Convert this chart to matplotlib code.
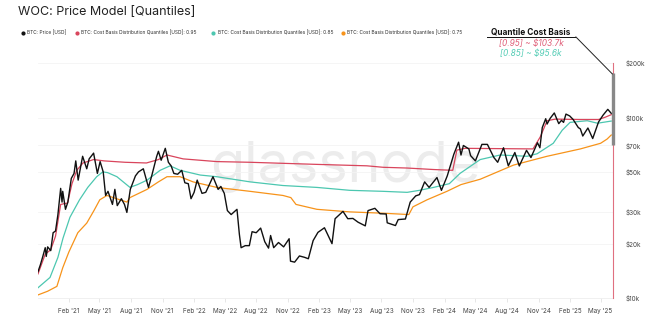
import matplotlib
matplotlib.use('Agg')
import matplotlib.pyplot as plt
import matplotlib.dates as mdates
import matplotlib.ticker as mticker
from matplotlib.lines import Line2D
import pandas as pd

plt.rcParams['font.family'] = ['Inter', 'DejaVu Sans']

# BTC price (thousand USD)
price_dates = [
    '2020-11-03', '2020-11-10', '2020-11-17', '2020-11-24', '2020-11-27', '2020-12-01',
    '2020-12-10', '2020-12-17', '2020-12-24', '2020-12-31', '2021-01-08', '2021-01-12',
    '2021-01-14', '2021-01-22', '2021-01-29', '2021-02-08', '2021-02-16', '2021-02-21',
    '2021-02-28', '2021-03-13', '2021-03-25', '2021-04-01', '2021-04-14', '2021-04-25',
    '2021-05-03', '2021-05-12', '2021-05-19', '2021-05-26', '2021-06-08', '2021-06-15',
    '2021-06-22', '2021-07-04', '2021-07-13', '2021-07-20', '2021-07-30', '2021-08-14',
    '2021-08-23', '2021-09-06', '2021-09-21', '2021-10-01', '2021-10-15', '2021-10-20',
    '2021-10-28', '2021-11-09', '2021-11-18', '2021-11-26', '2021-12-04', '2021-12-15',
    '2021-12-27', '2022-01-05', '2022-01-15', '2022-01-23', '2022-02-01', '2022-02-10',
    '2022-02-24', '2022-03-07', '2022-03-28', '2022-04-12', '2022-04-20', '2022-04-30',
    '2022-05-09', '2022-05-20', '2022-06-06', '2022-06-13', '2022-06-18', '2022-06-30',
    '2022-07-12', '2022-07-20', '2022-08-01', '2022-08-14', '2022-08-26', '2022-09-06',
    '2022-09-12', '2022-09-21', '2022-10-05', '2022-10-20', '2022-11-05', '2022-11-09',
    '2022-11-21', '2022-12-05', '2022-12-20', '2022-12-31', '2023-01-14', '2023-01-28',
    '2023-02-16', '2023-03-10', '2023-03-19', '2023-04-11', '2023-04-25', '2023-05-10',
    '2023-05-25', '2023-06-15', '2023-06-23', '2023-07-13', '2023-07-28', '2023-08-15',
    '2023-08-18', '2023-09-11', '2023-09-19', '2023-10-10', '2023-10-24', '2023-11-09',
    '2023-11-20', '2023-12-05', '2023-12-18', '2024-01-10', '2024-01-23', '2024-02-09',
    '2024-02-28', '2024-03-13', '2024-03-20', '2024-03-27', '2024-04-12', '2024-04-17',
    '2024-05-01', '2024-05-20', '2024-06-05', '2024-06-24', '2024-07-05', '2024-07-22',
    '2024-08-05', '2024-08-24', '2024-09-06', '2024-09-27', '2024-10-10', '2024-10-29',
    '2024-11-05', '2024-11-12', '2024-11-22', '2024-11-26', '2024-12-05', '2024-12-17',
    '2024-12-30', '2025-01-07', '2025-01-13', '2025-01-20', '2025-01-31', '2025-02-10',
    '2025-02-25', '2025-03-03', '2025-03-10', '2025-03-25', '2025-04-08', '2025-04-25',
    '2025-05-08', '2025-05-22', '2025-06-01',
]
price_k = [
    14.0, 15.3, 17.0, 19.0, 17.0, 19.2,
    18.3, 23.0, 23.5, 29.0, 40.5, 34.0,
    39.0, 31.0, 34.0, 46.0, 49.0, 57.5,
    45.0, 61.0, 52.0, 59.0, 63.5, 49.0,
    57.0, 50.0, 37.0, 39.0, 33.0, 40.0,
    32.5, 35.5, 33.0, 29.8, 40.0, 47.5,
    50.0, 52.0, 41.0, 48.0, 61.0, 65.0,
    58.0, 67.5, 56.5, 54.0, 49.0, 48.5,
    51.0, 43.5, 43.0, 35.5, 38.5, 45.0,
    38.0, 38.5, 47.0, 40.0, 41.5, 38.0,
    30.5, 29.0, 31.0, 22.5, 19.0, 19.5,
    19.5, 23.3, 23.0, 24.4, 20.5, 18.9,
    22.2, 19.0, 20.3, 19.2, 21.3, 16.0,
    15.8, 17.1, 16.8, 16.5, 20.8, 23.1,
    24.5, 20.0, 27.5, 30.2, 27.5, 27.6,
    26.3, 25.1, 30.5, 31.4, 29.3, 29.2,
    26.1, 25.2, 27.2, 27.4, 34.0, 36.8,
    37.4, 44.0, 41.0, 46.5, 39.5, 47.5,
    62.5, 73.0, 62.0, 70.0, 67.0, 61.5,
    57.5, 71.0, 71.0, 60.0, 56.5, 68.0,
    54.0, 64.0, 53.9, 65.8, 60.0, 72.5,
    68.0, 88.0, 98.5, 92.0, 99.0, 106.0,
    92.5, 96.5, 94.0, 104.5, 102.0, 97.5,
    88.0, 86.5, 79.0, 87.5, 76.5, 94.5,
    103.0, 111.0, 105.5,
]

# cost basis quantile 0.95
q95_dates = [
    '2020-11-03', '2020-11-24', '2020-12-10', '2020-12-24', '2021-01-08', '2021-01-28',
    '2021-02-10', '2021-02-24', '2021-03-14', '2021-04-14', '2021-05-15', '2021-07-15',
    '2021-09-15', '2021-10-20', '2021-11-14', '2021-12-31', '2022-04-08', '2022-07-14',
    '2023-01-25', '2023-06-20', '2023-08-06', '2023-10-15', '2024-01-01', '2024-02-25',
    '2024-03-08', '2024-04-01', '2024-10-16', '2024-11-06', '2024-11-26', '2024-12-20',
    '2025-03-01', '2025-04-25', '2025-05-15', '2025-06-01',
]
q95_k = [
    13.6, 17.5, 18.5, 22.0, 33.0, 33.6,
    43.0, 51.0, 56.0, 58.5, 57.5, 56.5,
    56.0, 58.5, 62.0, 59.0, 57.0, 56.5,
    55.0, 54.0, 53.0, 52.5, 51.5, 51.0,
    66.0, 67.5, 67.0, 78.0, 96.0, 98.0,
    97.5, 97.5, 100.5, 103.7,
]

# cost basis quantile 0.85
q85_dates = [
    '2020-11-03', '2020-12-08', '2020-12-31', '2021-01-15', '2021-02-04', '2021-03-04',
    '2021-03-28', '2021-04-23', '2021-05-11', '2021-05-25', '2021-06-21', '2021-07-29',
    '2021-08-20', '2021-09-17', '2021-10-25', '2021-11-23', '2021-12-22', '2022-02-19',
    '2022-04-08', '2022-07-14', '2022-10-18', '2023-01-25', '2023-05-01', '2023-08-06',
    '2023-10-15', '2023-11-20', '2023-12-31', '2024-02-15', '2024-03-17', '2024-05-15',
    '2024-07-12', '2024-09-29', '2024-10-28', '2024-12-14', '2025-01-09', '2025-02-01',
    '2025-03-23', '2025-04-22', '2025-06-01',
]
q85_k = [
    11.4, 13.0, 16.8, 21.5, 28.0, 35.0,
    41.0, 47.0, 50.0, 49.5, 47.0, 41.0,
    42.5, 45.0, 51.0, 54.0, 51.0, 48.0,
    47.0, 44.0, 42.0, 41.0, 39.5, 39.0,
    38.5, 39.5, 41.0, 43.0, 49.0, 58.5,
    62.0, 61.0, 63.0, 72.0, 85.0, 94.0,
    96.0, 93.0, 95.6,
]

# cost basis quantile 0.75
q75_dates = [
    '2020-11-03', '2020-12-01', '2020-12-28', '2021-01-14', '2021-02-01', '2021-02-27',
    '2021-03-25', '2021-04-15', '2021-05-02', '2021-05-23', '2021-06-20', '2021-07-20',
    '2021-07-29', '2021-09-17', '2021-10-20', '2021-11-14', '2021-12-22', '2022-01-29',
    '2022-04-08', '2022-07-14', '2022-10-18', '2022-11-10', '2022-11-25', '2023-01-25',
    '2023-05-01', '2023-08-06', '2023-10-20', '2023-11-01', '2023-12-12', '2024-02-08',
    '2024-03-20', '2024-05-15', '2024-08-20', '2024-11-26', '2025-03-03', '2025-05-01',
    '2025-05-20', '2025-06-01',
]
q75_k = [
    10.4, 10.9, 11.6, 14.7, 18.0, 23.0,
    26.0, 30.5, 35.0, 37.0, 35.5, 34.0,
    36.0, 40.0, 44.0, 47.0, 47.0, 44.0,
    41.0, 39.0, 37.0, 36.0, 33.0, 31.0,
    30.0, 29.5, 29.0, 32.0, 35.0, 39.0,
    42.5, 45.5, 54.5, 61.0, 67.0, 72.0,
    76.0, 80.0,
]

y_ticks = [10000, 20000, 30000, 50000, 70000, 100000, 200000]
y_labels = ['$10k', '$20k', '$30k', '$50k', '$70k', '$100k', '$200k']

legend_names = ['BTC: Price [USD]',
                'BTC: Cost Basis Distribution Quantiles [USD]: 0.95',
                'BTC: Cost Basis Distribution Quantiles [USD]: 0.85',
                'BTC: Cost Basis Distribution Quantiles [USD]: 0.75']

C_PRICE = '#111111'
C_95 = '#d9455c'
C_85 = '#4cc7b0'
C_75 = '#f7931a'

fig = plt.figure(figsize=(6.5, 3.27), dpi=100)
ax = fig.add_axes([0.0585, 0.0887, 0.8845, 0.718])

# watermark
ax.text(0.535, 0.56, 'glassnode', transform=ax.transAxes, fontsize=40,
        color='#ececec', ha='center', va='center', zorder=0)

def k(vals):
    return [v * 1000 for v in vals]

ax.plot(pd.to_datetime(q75_dates), k(q75_k), color=C_75, lw=0.9, zorder=2)
ax.plot(pd.to_datetime(q85_dates), k(q85_k), color=C_85, lw=0.9, zorder=2)
ax.plot(pd.to_datetime(q95_dates), k(q95_k), color=C_95, lw=0.9, zorder=3)
ax.plot(pd.to_datetime(price_dates), k(price_k), color=C_PRICE, lw=1.0, zorder=4)

ax.set_yscale('log')
ax.set_ylim(10000, 200000)
ax.set_xlim(pd.Timestamp('2020-11-03'), pd.Timestamp('2025-06-06'))

ax.yaxis.tick_right()
ax.yaxis.set_major_locator(mticker.FixedLocator(y_ticks))
ax.yaxis.set_major_formatter(mticker.FixedFormatter(y_labels))
ax.yaxis.set_minor_locator(mticker.NullLocator())
ax.tick_params(axis='y', length=0, pad=9, labelsize=4.6, labelcolor='#444444')

ax.xaxis.set_major_locator(mdates.MonthLocator(bymonth=[2, 5, 8, 11]))
ax.xaxis.set_major_formatter(mdates.DateFormatter("%b '%y"))
ax.tick_params(axis='x', length=3, width=0.5, color='#dddddd', pad=4,
               labelsize=4.6, labelcolor='#444444')

ax.grid(axis='y', color='#f4f4f4', lw=0.6, zorder=0)
for s in ['top', 'left', 'right']:
    ax.spines[s].set_visible(False)
ax.spines['bottom'].set_color('#eeeeee')
ax.spines['bottom'].set_linewidth(0.6)

# current date marker and highlight bar
end = pd.Timestamp('2025-06-06')
ax.axvline(end, color='#e07080', lw=0.8, zorder=5, clip_on=False)
ax.plot([end, end], [70000, 176000], color='#888888', lw=2.4, zorder=5,
        solid_capstyle='butt', clip_on=False)

# title
fig.text(0.027, 0.963, 'WOC: Price Model [Quantiles]', fontsize=9,
         color='#222222', ha='left', va='center')

# legend
leg_x = [0.035, 0.118, 0.328, 0.527]
for x, name, c in zip(leg_x, legend_names, [C_PRICE, C_95, C_85, C_75]):
    fig.add_artist(Line2D([x], [0.899], marker='o', markersize=2, color=c,
                          transform=fig.transFigure))
    fig.text(x + 0.007, 0.899, name, fontsize=3.5, color='#333333',
             ha='left', va='center')

# annotation
fig.text(0.817, 0.902, 'Quantile Cost Basis', fontsize=6, fontweight='bold',
         color='#111111', ha='center', va='center')
fig.add_artist(Line2D([0.749, 0.885], [0.888, 0.888], color='#111111', lw=0.7,
                      transform=fig.transFigure))
fig.text(0.817, 0.868, '[0.95] ~ $103.7k', fontsize=6, style='italic',
         color='#e0607a', ha='center', va='center')
fig.text(0.817, 0.835, '[0.85] ~ $95.6k', fontsize=6, style='italic',
         color='#56cdb6', ha='center', va='center')
fig.add_artist(Line2D([0.886, 0.942], [0.887, 0.774], color='#222222', lw=0.7,
                      transform=fig.transFigure))

fig.savefig('out.png', dpi=100)
